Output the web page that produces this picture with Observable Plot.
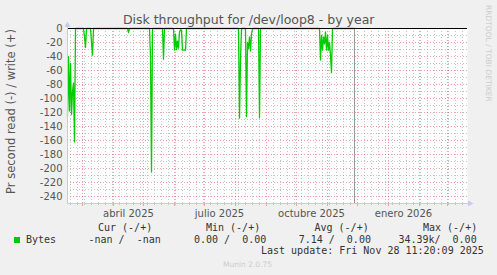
<!DOCTYPE html>
<html><head><meta charset="utf-8">
<script src="https://cdn.jsdelivr.net/npm/d3@7"></script>
<script src="https://cdn.jsdelivr.net/npm/@observablehq/plot@0.6"></script>
<style>
html,body{margin:0;padding:0;background:#f0f0f0;}
#chart{position:relative;width:497px;height:275px;overflow:hidden;}
</style></head><body><div id="chart"></div>
<script>
const title = "Disk throughput for /dev/loop8 - by year";
const yLabel = "Pr second read (-) / write (+)";
const credit = "RRDTOOL / TOBI OETIKER";
const footer = "Munin 2.0.75";
const xDomain = ["2025-02-14", "2026-03-21"];
const nowDate = "2025-11-28";

const readDates = [
 "2025-02-14","2025-02-15","2025-02-16","2025-02-17","2025-02-18","2025-02-19","2025-02-20","2025-02-21","2025-02-22",
 "2025-03-02","2025-03-03","2025-03-04","2025-03-05",
 "2025-03-09","2025-03-10","2025-03-11","2025-03-12",
 "2025-04-15","2025-04-16","2025-04-17",
 "2025-05-07","2025-05-08","2025-05-09","2025-05-10",
 "2025-05-20","2025-05-21","2025-05-22",
 "2025-05-31","2025-06-01","2025-06-02","2025-06-03","2025-06-04","2025-06-05","2025-06-06","2025-06-07","2025-06-08","2025-06-09","2025-06-10","2025-06-11","2025-06-12","2025-06-13",
 "2025-08-04","2025-08-05","2025-08-06","2025-08-07",
 "2025-08-11","2025-08-12","2025-08-13","2025-08-14","2025-08-15","2025-08-16","2025-08-17","2025-08-18",
 "2025-08-24","2025-08-25","2025-08-26",
 "2025-10-24","2025-10-25","2025-10-26","2025-10-27","2025-10-28","2025-10-29","2025-10-30","2025-10-31","2025-11-01","2025-11-02","2025-11-03","2025-11-04","2025-11-05","2025-11-06",
 "2025-11-28"
];
const readValues = [
 -125,-40,-118,-50,-123,-90,-78,-162,0,
 0,-12,-27,0,
 0,-20,-38,0,
 0,-6,0,
 0,-40,-205,0,
 0,-44,0,
 0,-31,-8,-30,-18,-28,-5,-2,-2,-31,-31,-31,-31,0,
 0,-128,-45,0,
 0,-126,-20,-29,-12,-32,-8,0,
 0,-127,0,
 0,-45,-10,-31,-12,-22,-5,-31,-10,-31,-20,-38,-63,0,
 0
];

const yMajorTicks = [0,-20,-40,-60,-80,-100,-120,-140,-160,-180,-200,-220,-240];
const yMinorTicks = [-10,-30,-50,-70,-90,-110,-130,-150,-170,-190,-210,-230];
const xLabelDates = ["2025-04-16","2025-07-16","2025-10-16","2026-01-16"];
const xLabelNames = ["abril 2025","julio 2025","octubre 2025","enero 2026"];

const seriesName = "Bytes";
const legendHeaders = ["Cur (-/+)","Min (-/+)","Avg (-/+)","Max (-/+)"];
const legendValues = ["-nan /  -nan","0.00 /  0.00","7.14 /  0.00","34.39k/  0.00"];
const lastUpdate = "Last update: Fri Nov 28 11:20:09 2025";

(function () {
const green = "#00cc00";
const data = readDates.map((d, i) => ({date: new Date(d), value: readValues[i]}));
const x0 = new Date(xDomain[0]), x1 = new Date(xDomain[1]);
const monthLines = d3.utcMonth.range(d3.utcMonth.ceil(x0), x1);
const monthSet = new Set(monthLines.map(d => +d));
const weekLines = d3.utcMonday.range(x0, x1).filter(d => !monthSet.has(+d));
const nameByTime = new Map(xLabelDates.map((d, i) => [+new Date(d), xLabelNames[i]]));

const minorStroke = "rgba(140,140,140,0.5)";
const majorStroke = "rgba(225,60,60,0.5)";

const chart = Plot.plot({
  width: 497, height: 275,
  marginLeft: 67, marginRight: 30, marginTop: 28, marginBottom: 72,
  style: {fontFamily: "DejaVu Sans", fontSize: "10px", color: "#555", background: "transparent", overflow: "visible"},
  x: {type: "utc", domain: [x0, x1], axis: null},
  y: {domain: [-250, 0], axis: null},
  marks: [
    Plot.frame({fill: "#ffffff", stroke: "none"}),
    Plot.ruleX(weekLines, {stroke: minorStroke, strokeDasharray: "1,2"}),
    Plot.ruleY(yMinorTicks, {stroke: minorStroke, strokeDasharray: "1,2"}),
    Plot.ruleX(monthLines, {stroke: majorStroke, strokeDasharray: "1,2"}),
    Plot.ruleY(yMajorTicks, {stroke: majorStroke, strokeDasharray: "1,2"}),
    Plot.axisX({ticks: weekLines, tickSize: 2, tickFormat: () => "", stroke: "#c4c4c4"}),
    Plot.axisX({ticks: monthLines, tickSize: 3, tickFormat: () => "", stroke: "#e8a0a0"}),
    Plot.ruleX([new Date(nowDate)], {stroke: "#999", strokeWidth: 1}),
    Plot.line(data, {x: "date", y: "value", stroke: green, strokeWidth: 1.3}),
    Plot.ruleY([0], {stroke: "#000", strokeWidth: 1}),
    Plot.axisY({ticks: yMajorTicks, tickSize: 0, tickPadding: 5, fontSize: 10, fill: "#555",
      tickFormat: d => d === 0 ? "0" : "-" + Math.abs(d), label: null}),
    Plot.axisX({ticks: xLabelDates.map(d => new Date(d)), tickSize: 0, tickPadding: 6, fontSize: 10, fill: "#555",
      tickFormat: d => nameByTime.get(+d), label: null})
  ]
});
document.getElementById("chart").appendChild(chart);

const svg = d3.select(chart);
const sx = chart.scale("x"), sy = chart.scale("y");
const pLeft = sx.range[0], pRight = sx.range[1];
const pBottom = sy.range[0], pTop = sy.range[1];
const axisColor = "#c8c8f4";
svg.append("line").attr("x1", pLeft + 0.5).attr("x2", pLeft + 0.5).attr("y1", pBottom).attr("y2", pTop - 4)
  .attr("stroke", axisColor);
svg.append("line").attr("x1", pLeft).attr("x2", pRight + 3).attr("y1", pBottom + 0.5).attr("y2", pBottom + 0.5)
  .attr("stroke", axisColor);
svg.append("path").attr("d", `M${pLeft-2.5},${pTop-1}L${pLeft+0.5},${pTop-6.5}L${pLeft+3.5},${pTop-1}Z`).attr("fill", axisColor);
svg.append("path").attr("d", `M${pRight+1},${pBottom-2.5}L${pRight+6.5},${pBottom+0.5}L${pRight+1},${pBottom+3.5}Z`).attr("fill", axisColor);

const sans = "DejaVu Sans", mono = "DejaVu Sans Mono";
svg.append("text").attr("x", 248.7).attr("y", 23.5).attr("text-anchor", "middle")
  .attr("font-family", sans).attr("font-size", 12.5).attr("fill", "#555").text(title);
svg.append("text").attr("transform", "translate(15,111.5) rotate(-90)").attr("text-anchor", "middle")
  .attr("font-family", sans).attr("font-size", 11.5).attr("fill", "#555").text(yLabel);
svg.append("text").attr("transform", "translate(485.5,53.3) rotate(90)").attr("text-anchor", "middle")
  .attr("font-family", sans).attr("font-size", 7.5).attr("fill", "#ccc").text(credit);
svg.append("text").attr("x", 223).attr("y", 267).attr("text-anchor", "start").attr("font-family", sans).attr("font-size", 7.5)
  .attr("fill", "#ccc").text(footer);

const headerX = [98, 206, 314.5, 423];
const valueX = [88.5, 194, 298.7, 398.4];
const monoText = (x, y, s) => svg.append("text").attr("x", x).attr("y", y).attr("text-anchor", "start")
  .attr("font-family", mono).attr("font-size", 10).attr("fill", "#333").style("white-space", "pre").text(s);
legendHeaders.forEach((h, i) => monoText(headerX[i], 231, h));
legendValues.forEach((v, i) => monoText(valueX[i], 243, v));
svg.append("rect").attr("x", 14).attr("y", 237).attr("width", 6).attr("height", 6).attr("fill", green);
monoText(26, 243, seriesName);
monoText(261, 254, lastUpdate);
})();
</script></body></html>
